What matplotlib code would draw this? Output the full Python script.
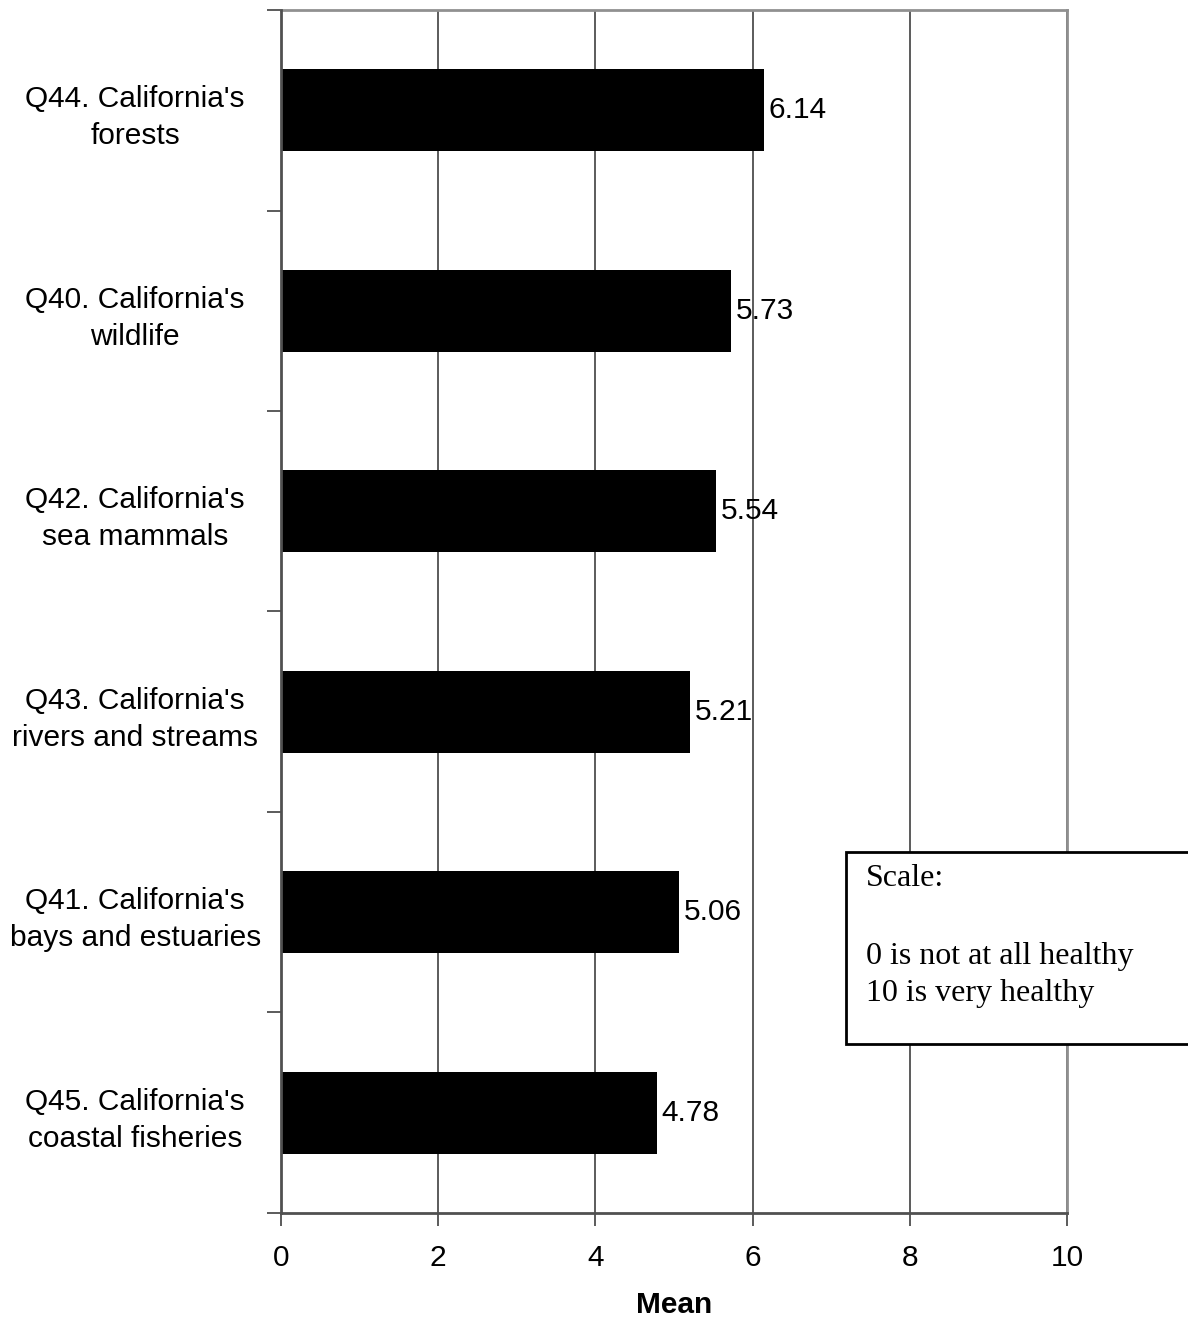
import numpy as np
import matplotlib.pyplot as plt
from matplotlib.patches import Rectangle

# data (top to bottom)
labels = ["Q44. California's\nforests",
          "Q40. California's\nwildlife",
          "Q42. California's\nsea mammals",
          "Q43. California's\nrivers and streams",
          "Q41. California's\nbays and estuaries",
          "Q45. California's\ncoastal fisheries"]
means = [6.14, 5.73, 5.54, 5.21, 5.06, 4.78]
xticks = [0, 2, 4, 6, 8, 10]

plt.rcParams['font.family'] = ['Liberation Sans', 'DejaVu Sans']
fs = 21.5

fig = plt.figure(figsize=(11.88, 13.19), dpi=100)
ax = fig.add_axes([0.2365, 0.0804, 0.6616, 0.912])

n = len(labels)
ypos = np.arange(n)[::-1]
ax.barh(ypos, means, height=0.41, color='black', zorder=3)
for y, v in zip(ypos, means):
    ax.text(v + 0.06, y, f"{v:.2f}", va='center', ha='left', fontsize=fs, zorder=4)

ax.set_xlim(0, 10)
ax.set_ylim(-0.5, n - 0.5)
ax.set_xticks(xticks)
ax.set_xticklabels([str(t) for t in xticks], fontsize=fs)
ax.tick_params(axis='x', length=9, width=1.2, color='#404040', pad=13)

ax.set_yticks(ypos)
ax.set_yticklabels(labels, fontsize=fs, ha='center', multialignment='center',
                   linespacing=1.4)
ax.tick_params(axis='y', which='major', length=0, pad=105)
ax.set_yticks(np.arange(-0.5, n, 1.0), minor=True)
ax.tick_params(axis='y', which='minor', length=10, width=1.2, color='#404040')

ax.grid(axis='x', color='#404040', linewidth=1.2, zorder=0)
for side in ['top', 'right']:
    ax.spines[side].set_color('#909090')
    ax.spines[side].set_linewidth(2)
for side in ['left', 'bottom']:
    ax.spines[side].set_color('#505050')
    ax.spines[side].set_linewidth(2)
ax.spines['left'].set_zorder(5)

ax.set_xlabel('Mean', fontsize=fs, fontweight='bold', labelpad=14)

# scale note box
box = Rectangle((846 / 1188, 1 - 1044 / 1319), 360 / 1188, 192 / 1319,
                transform=fig.transFigure, facecolor='white', edgecolor='black',
                linewidth=2, zorder=10, clip_on=False)
fig.patches.append(box)
fig.text(866 / 1188, 1 - 878 / 1319, "Scale:", family='Liberation Serif',
         fontsize=23, va='center', ha='left', zorder=11)
fig.text(866 / 1188, 1 - 975 / 1319, "0 is not at all healthy\n10 is very healthy",
         family='Liberation Serif', fontsize=23, va='center', ha='left',
         linespacing=1.4, zorder=11)

fig.savefig('out.png', dpi=100)
